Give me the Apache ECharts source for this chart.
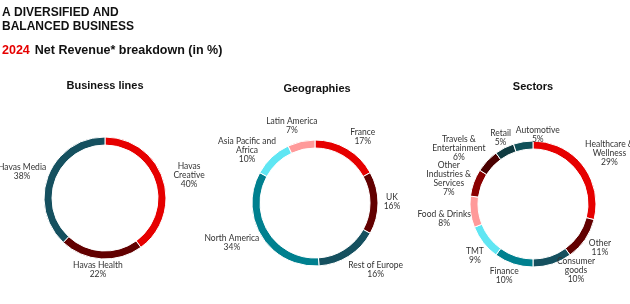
<!DOCTYPE html>
<html>
<head>
<meta charset="utf-8">
<script src="https://cdn.jsdelivr.net/npm/echarts@6/dist/echarts.min.js"></script>
<style>
  html, body { margin: 0; padding: 0; background: #fff; }
  #main { width: 630px; height: 304px; }
</style>
</head>
<body>
<div id="main"></div>
<script>
  // data
  let businessNames = ['Havas\nCreative', 'Havas Health', 'Havas Media'];
  let businessValues = [40, 22, 38];
  let businessColors = ['#e60000', '#620000', '#15505f'];

  let geoNames = ['France', 'UK', 'Rest of Europe', 'North America', 'Asia Pacific and\nAfrica', 'Latin America'];
  let geoValues = [17, 16, 16, 34, 10, 7];
  let geoColors = ['#e60000', '#620000', '#15505f', '#00808f', '#5fe6f3', '#ff9a9a'];

  let sectorNames = ['Healthcare &\nWellness', 'Other', 'Consumer\ngoods', 'Finance', 'TMT', 'Food & Drinks',
    'Other\nIndustries &\nServices', 'Travels &\nEntertainment', 'Retail', 'Automotive'];
  let sectorValues = [29, 11, 10, 10, 9, 8, 7, 6, 5, 5];
  let sectorColors = ['#e60000', '#620000', '#15505f', '#00808f', '#5fe6f3', '#ff9a9a',
    '#8a0000', '#4a0000', '#0f3a40', '#0f5058'];

  // label placement: distance from the donut centre and a small angle nudge (degrees)
  let businessLabelRadius = [87, 72, 87];
  let businessLabelNudge = [3, 2, -4];
  let geoLabelRadius = [82, 77, 90, 92, 86, 81];
  let geoLabelNudge = [5, -1, -10, 7, -9, -4];
  let sectorLabelRadius = [92, 80, 79, 77, 78, 90, 88, 93, 74, 69];
  let sectorLabelNudge = [4, -1, -15, 4, -4, -2, -3, -6, 1, 13];

  let labelFont = 'Lato';

  function toData(names, values, colors) {
    return names.map(function (n, i) {
      return { name: n, value: values[i], itemStyle: { color: colors[i] } };
    });
  }

  function donut(center, radius, names, values, colors, labelRadius, labelNudge) {
    let total = values.reduce(function (a, b) { return a + b; }, 0);
    let mids = [];
    let acc = 0;
    values.forEach(function (v) {
      mids.push((acc + v / 2) / total * 360);
      acc += v;
    });
    return {
      type: 'pie',
      center: center,
      radius: radius,
      startAngle: 90,
      clockwise: true,
      avoidLabelOverlap: false,
      silent: true,
      itemStyle: { borderColor: '#fff', borderWidth: 1 },
      label: {
        show: true,
        position: 'outside',
        formatter: '{b}\n{c}%',
        fontFamily: labelFont,
        fontSize: 8.5,
        lineHeight: 9,
        color: '#333',
        align: 'center'
      },
      labelLine: { show: false },
      labelLayout: function (params) {
        let i = params.dataIndex;
        let a = (mids[i] + labelNudge[i]) * Math.PI / 180;
        return {
          x: center[0] + labelRadius[i] * Math.sin(a),
          y: center[1] - labelRadius[i] * Math.cos(a),
          align: 'center',
          verticalAlign: 'middle',
          hideOverlap: false,
          moveOverlap: null
        };
      },
      data: toData(names, values, colors)
    };
  }

  let myChart = echarts.init(document.getElementById('main'), null, { renderer: 'canvas' });

  let titleStyle = { fontFamily: 'Liberation Sans', fontSize: 11, fontWeight: 'bold', color: '#111' };

  let option = {
    animation: false,
    title: [
      {
        text: 'A DIVERSIFIED AND\nBALANCED BUSINESS',
        left: 2, top: 5, padding: 0,
        textStyle: { fontFamily: 'Liberation Sans', fontSize: 12, fontWeight: 'bold', color: '#111', lineHeight: 14.5 }
      },
      {
        text: '{r|2024} {b|Net Revenue* breakdown (in %)}',
        left: 2, top: 42, padding: 0,
        textStyle: {
          rich: {
            r: { fontFamily: 'Liberation Sans', fontSize: 12.5, fontWeight: 'bold', color: '#e60000' },
            b: { fontFamily: 'Liberation Sans', fontSize: 12.5, fontWeight: 'bold', color: '#111' }
          }
        }
      },
      { text: 'Business lines', left: 105, top: 80, padding: 0, textAlign: 'center', textStyle: titleStyle },
      { text: 'Geographies', left: 317, top: 83, padding: 0, textAlign: 'center', textStyle: titleStyle },
      { text: 'Sectors', left: 533, top: 81, padding: 0, textAlign: 'center', textStyle: titleStyle }
    ],
    series: [
      donut([105, 198], [53, 61], businessNames, businessValues, businessColors, businessLabelRadius, businessLabelNudge),
      donut([315, 203], [55, 63], geoNames, geoValues, geoColors, geoLabelRadius, geoLabelNudge),
      donut([533, 204], [55, 63], sectorNames, sectorValues, sectorColors, sectorLabelRadius, sectorLabelNudge)
    ]
  };

  myChart.setOption(option);
</script>
</body>
</html>
